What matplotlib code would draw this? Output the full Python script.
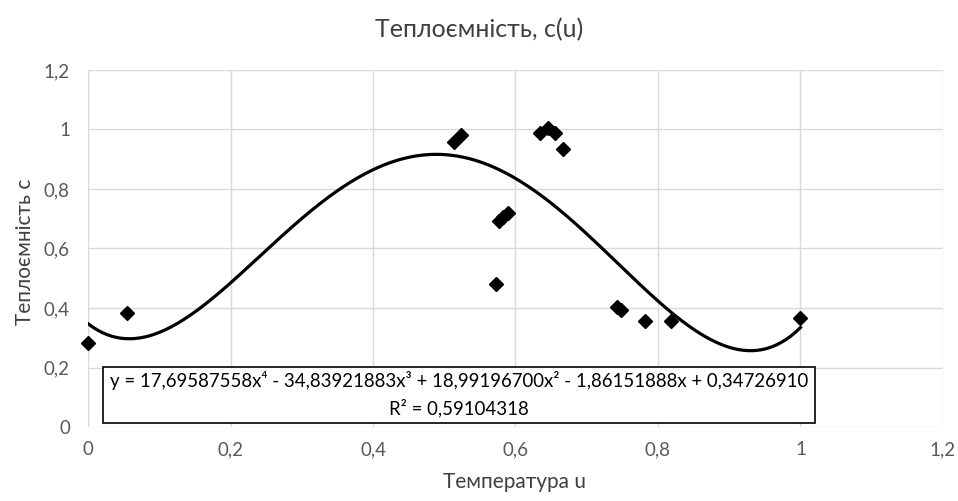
import matplotlib.pyplot as plt
from matplotlib.patches import Rectangle
from matplotlib.ticker import MultipleLocator, FuncFormatter
import numpy as np

plt.rcParams["font.family"] = ["Lato", "DejaVu Sans"]

# measured points
u = [0.0, 0.054, 0.513, 0.524, 0.572, 0.577, 0.583, 0.590,
     0.634, 0.646, 0.655, 0.666, 0.743, 0.748, 0.782, 0.818, 1.0]
c = [0.282, 0.382, 0.959, 0.981, 0.480, 0.693, 0.705, 0.720,
     0.987, 1.004, 0.987, 0.934, 0.404, 0.393, 0.356, 0.356, 0.367]

# 4th order trendline coefficients (highest power first)
coefs = [17.69587558, -34.83921883, 18.99196700, -1.86151888, 0.34726910]
r2 = 0.59104318

fig = plt.figure(figsize=(9.58, 5.01), dpi=100)
ax = fig.add_axes([0.0919, 0.1477, 0.8924, 0.7126])

xs = np.linspace(0, 1, 300)
ax.plot(xs, np.polyval(coefs, xs), color="black", lw=2.3, zorder=3)
ax.plot(u, c, "D", color="black", markersize=7.5, zorder=4,
        linestyle="none", clip_on=False)

ax.set_xlim(0, 1.2)
ax.set_ylim(0, 1.2)
ax.xaxis.set_major_locator(MultipleLocator(0.2))
ax.yaxis.set_major_locator(MultipleLocator(0.2))
fmt = FuncFormatter(lambda v, p: ("%g" % round(v, 1)).replace(".", ","))
ax.xaxis.set_major_formatter(fmt)
ax.yaxis.set_major_formatter(fmt)
ax.grid(True, color="#d9d9d9", lw=1)
ax.set_axisbelow(True)
for s in ax.spines.values():
    s.set_visible(False)
ax.tick_params(length=0, labelsize=13.5, labelcolor="#595959")
ax.tick_params(axis="x", pad=10)
ax.tick_params(axis="y", pad=13)

fig.text(0.5, 0.94, "Теплоємність, c(u)", ha="center", va="center",
         fontsize=18, color="#404040")
fig.text(0.537, 0.038, "Температура u", ha="center", va="center",
         fontsize=15, color="#404040")
fig.text(0.026, 0.497, "Теплоємність c", ha="center", va="center",
         fontsize=15, color="#404040", rotation=90)

# equation box
ax.add_patch(Rectangle((0.0175, 0.011), 0.8325, 0.157, transform=ax.transAxes,
                       facecolor="white", edgecolor="black", lw=1.2, zorder=5))
eq = "y = 17,69587558x⁴ - 34,83921883x³ + 18,99196700x² - 1,86151888x + 0,34726910"
ax.text(0.434, 0.129, eq, transform=ax.transAxes, ha="center", va="center",
        fontsize=13.4, color="black", zorder=6)
ax.text(0.434, 0.053, "R² = " + ("%.8f" % r2).replace(".", ","),
        transform=ax.transAxes, ha="center", va="center",
        fontsize=13.4, color="black", zorder=6)

fig.savefig("out.png", dpi=100)
